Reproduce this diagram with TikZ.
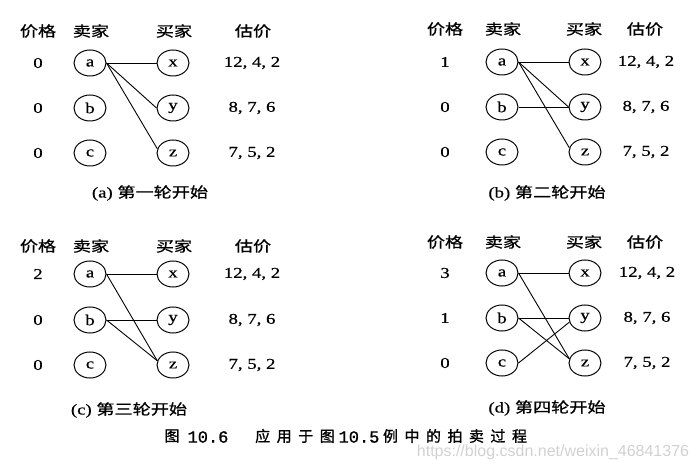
\documentclass[tikz,border=0pt]{standalone}
\usepackage{fontspec}
\setmainfont{Liberation Serif}[FakeBold=0.5]
\newfontfamily\cjk{Noto Sans CJK SC}[FakeBold=0.8]
\newfontfamily\cjkcap{Noto Sans CJK SC}[FakeBold=1.2]
\newfontfamily\wmfont{Liberation Sans}
\newfontfamily\monofont{Liberation Mono}[FakeBold=1]
\usetikzlibrary{shapes.geometric}
\newcommand\wx[1]{\scalebox{1.25}[1]{#1}}
\newcommand\gap{\hspace{6.5pt}}
\tikzset{
  hd/.style={font=\cjk\fontsize{14.5}{14.5}\selectfont, inner sep=0pt},
  num/.style={font=\fontsize{15}{15}\selectfont, inner sep=0pt},
  vtx/.style={draw, ellipse, minimum width=32pt, minimum height=26pt, inner sep=0pt,
              line width=1pt, font=\fontsize{15}{15}\selectfont},
  edge/.style={line width=0.9pt},
  capt/.style={font=\fontsize{15}{15}\selectfont, inner sep=0pt},
  figcap/.style={font=\cjkcap\fontsize{15}{15}\selectfont, inner sep=0pt},
  figno/.style={font=\monofont\fontsize{17}{17}\selectfont, inner sep=0pt},
  wmark/.style={font=\wmfont\fontsize{16}{16}\selectfont, text=black!18, inner sep=0pt}
}
\begin{document}
\begin{tikzpicture}[x=1pt, y=-1pt]
\useasboundingbox (0,0) rectangle (699,470);
% ---------- panel (a)
\node[hd] (A-hp) at (38,31) {\wx{价格}};
\node[hd] (A-hs) at (91,31) {\wx{卖家}};
\node[hd] (A-hb) at (174,31) {\wx{买家}};
\node[hd] (A-hv) at (253,31) {\wx{估价}};
\foreach \n/\y/\p/\b/\v in {a/63/0/x/{12, 4, 2}, b/108/0/y/{8, 7, 6}, c/153/0/z/{7, 5, 2}}{
  \node[num] (A-p\n) at (38,\y) {\wx{\p}};
  \node[vtx] (A-\n) at (90,\y) {\wx{\n}};
  \node[vtx] (A-\b) at (173,\y) {\wx{\b}};
  \node[num] (A-v\n) at (252,\y) {\wx{\v}};
}
\node[capt] (A-cap) at (150,193) {\wx{(a) {\cjk\fontsize{14.5}{14.5}\selectfont 第一轮开始}}};
\draw[edge] (A-a.east) -- (A-x.west);
\draw[edge] (A-a.east) -- (A-y.west);
\draw[edge] (A-a.east) -- (A-z.165);
% ---------- panel (b)
\node[hd] (B-hp) at (445,29) {\wx{价格}};
\node[hd] (B-hs) at (503,29) {\wx{卖家}};
\node[hd] (B-hb) at (584,29) {\wx{买家}};
\node[hd] (B-hv) at (645,29) {\wx{估价}};
\foreach \n/\y/\p/\b/\v in {a/62/1/x/{12, 4, 2}, b/107/0/y/{8, 7, 6}, c/152/0/z/{7, 5, 2}}{
  \node[num] (B-p\n) at (445,\y) {\wx{\p}};
  \node[vtx] (B-\n) at (502,\y) {\wx{\n}};
  \node[vtx] (B-\b) at (585,\y) {\wx{\b}};
  \node[num] (B-v\n) at (646,\y) {\wx{\v}};
}
\node[capt] (B-cap) at (547,193) {\wx{(b) {\cjk\fontsize{14.5}{14.5}\selectfont 第二轮开始}}};
\draw[edge] (B-a.east) -- (B-x.west);
\draw[edge] (B-a.east) -- (B-y.west);
\draw[edge] (B-a.east) -- (B-z.165);
\draw[edge] (B-b.east) -- (B-y.west);
% ---------- panel (c)
\node[hd] (C-hp) at (38,246) {\wx{价格}};
\node[hd] (C-hs) at (91,246) {\wx{卖家}};
\node[hd] (C-hb) at (174,246) {\wx{买家}};
\node[hd] (C-hv) at (253,246) {\wx{估价}};
\foreach \n/\y/\p/\b/\v in {a/274/2/x/{12, 4, 2}, b/320/0/y/{8, 7, 6}, c/365/0/z/{7, 5, 2}}{
  \node[num] (C-p\n) at (38,\y) {\wx{\p}};
  \node[vtx] (C-\n) at (90,\y) {\wx{\n}};
  \node[vtx] (C-\b) at (173,\y) {\wx{\b}};
  \node[num] (C-v\n) at (252,\y) {\wx{\v}};
}
\node[capt] (C-cap) at (129,410) {\wx{(c) {\cjk\fontsize{14.5}{14.5}\selectfont 第三轮开始}}};
\draw[edge] (C-a.east) -- (C-x.west);
\draw[edge] (C-a.east) -- (C-z.165);
\draw[edge] (C-b.east) -- (C-y.west);
\draw[edge] (C-b.east) -- (C-z.165);
% ---------- panel (d)
\node[hd] (D-hp) at (445,242) {\wx{价格}};
\node[hd] (D-hs) at (503,242) {\wx{卖家}};
\node[hd] (D-hb) at (584,242) {\wx{买家}};
\node[hd] (D-hv) at (645,242) {\wx{估价}};
\foreach \n/\y/\p/\b/\v in {a/273/3/x/{12, 4, 2}, b/318/1/y/{8, 7, 6}, c/363/0/z/{7, 5, 2}}{
  \node[num] (D-p\n) at (445,\y) {\wx{\p}};
  \node[vtx] (D-\n) at (502,\y) {\wx{\n}};
  \node[vtx] (D-\b) at (585,\y) {\wx{\b}};
  \node[num] (D-v\n) at (647,\y) {\wx{\v}};
}
\node[capt] (D-cap) at (547,408) {\wx{(d) {\cjk\fontsize{14.5}{14.5}\selectfont 第四轮开始}}};
\draw[edge] (D-a.east) -- (D-x.west);
\draw[edge] (D-a.east) -- (D-z.165);
\draw[edge] (D-b.east) -- (D-y.west);
\draw[edge] (D-b.east) -- (D-z.165);
\draw[edge] (D-c.east) -- (D-y.195);
% ---------- figure caption
\node[figcap] (F-1) at (172,436) {图};
\node[figno]  (F-2) at (208,437) {10.6};
\node[figcap] (F-3) at (295,436) {应\gap 用\gap 于\gap 图};
\node[figno]  (F-4) at (359,437) {10.5};
\node[figcap] (F-5) at (455,436) {例\gap 中\gap 的\gap 拍\gap 卖\gap 过\gap 程};
% ---------- watermark
\node[wmark] (W) at (553,452) {https://blog.csdn.net/weixin\_46841376};
\end{tikzpicture}
\end{document}
